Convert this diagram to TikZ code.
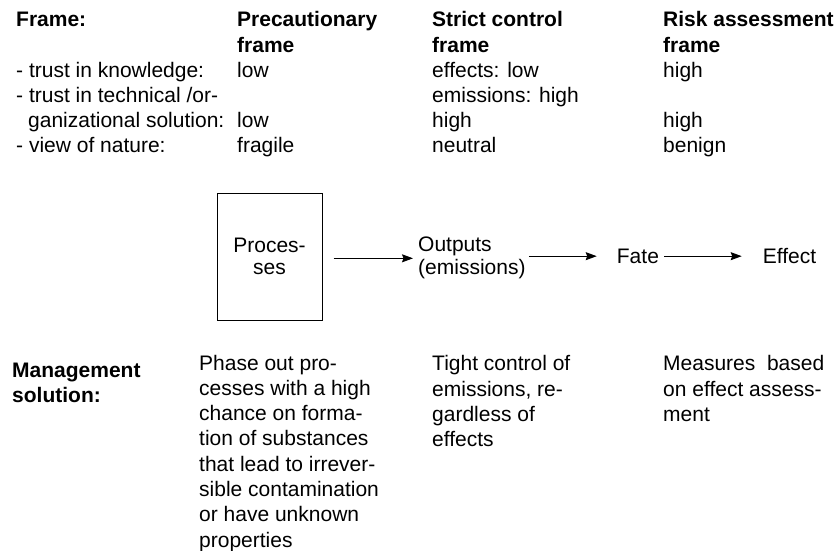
\documentclass[tikz,border=0pt]{standalone}
\usepackage{fontspec}
\setmainfont{Liberation Sans}
\usetikzlibrary{arrows.meta,calc}
\newcommand\normtext{\fontsize{21}{25.3}\selectfont}
\begin{document}
\begin{tikzpicture}[x=1pt,y=1pt,
  txt/.style={inner sep=0pt, anchor=base west, align=left, font=\normtext},
  hd/.style={txt, font=\normtext\bfseries},
  arr/.style={line width=0.9pt, -{Stealth[length=11pt,width=8pt,inset=1.5pt]}},
  procbox/.style={draw, line width=1pt, minimum width=105pt, minimum height=127pt,
    inner sep=0pt, align=center, font=\fontsize{21}{22}\selectfont}]
\useasboundingbox (0,0) rectangle (836,-550);
% header table (multi-line nodes: base = last line's baseline)
\node[hd] (frame) at (16,-26) {Frame:};
\node[txt] (crit) at (16,-152.9) {- trust in knowledge:\\- trust in technical /or-\\\hspace*{12pt}ganizational solution:\\- view of nature:};
\node[hd] (hp) at (237,-52) {Precautionary\\frame};
\node[txt] (p1) at (237,-77) {low};
\node[txt] (p2) at (237,-127.6) {low};
\node[txt] (p3) at (237,-152.9) {fragile};
\node[hd] (hs) at (432,-52) {Strict control\\frame};
\node[txt] (s1) at (432,-102.3) {effects: low\\emissions: high};
\node[txt] (s2) at (432,-127.6) {high};
\node[txt] (s3) at (432,-152.9) {neutral};
\node[hd] (hr) at (663,-52) {Risk assessment\\frame};
\node[txt] (r1) at (663,-77) {high};
\node[txt] (r2) at (663,-127.6) {high};
\node[txt] (r3) at (663,-152.9) {benign};
% chain
\node[procbox] (proc) at (269.5,-256.5) {Proces-\\ses};
\node[txt, font=\fontsize{21}{22.5}\selectfont] (out) at (418,-274.2) {Outputs\\(emissions)};
\node[txt] (fate) at (616.7,-263.3) {Fate};
\node[txt] (eff) at (762.7,-263.3) {Effect};
\draw[arr] ($(proc.east)+(11,-1.8)$) -- ($(proc.east -| out.west)+(-5,-1.8)$);
\draw[arr] ($(out.east |- fate.west)+(3,0)$) -- ($(fate.west)+(-20,0)$);
\draw[arr] ($(fate.east)+(5,0)$) -- ($(eff.west |- fate.east)+(-21,0)$);
% management
\node[hd] (mgmt) at (12,-402.6) {Management\\solution:};
\node[txt] (m1) at (199,-547.1) {Phase out pro-\\cesses with a high\\chance on forma-\\tion of substances\\that lead to irrever-\\sible contamination\\or have unknown\\properties};
\node[txt] (m2) at (432,-446.6) {Tight control of\\emissions, re-\\gardless of\\effects};
\node[txt] (m3) at (663,-421.3) {Measures~ based\\on effect assess-\\ment};
\end{tikzpicture}
\end{document}
